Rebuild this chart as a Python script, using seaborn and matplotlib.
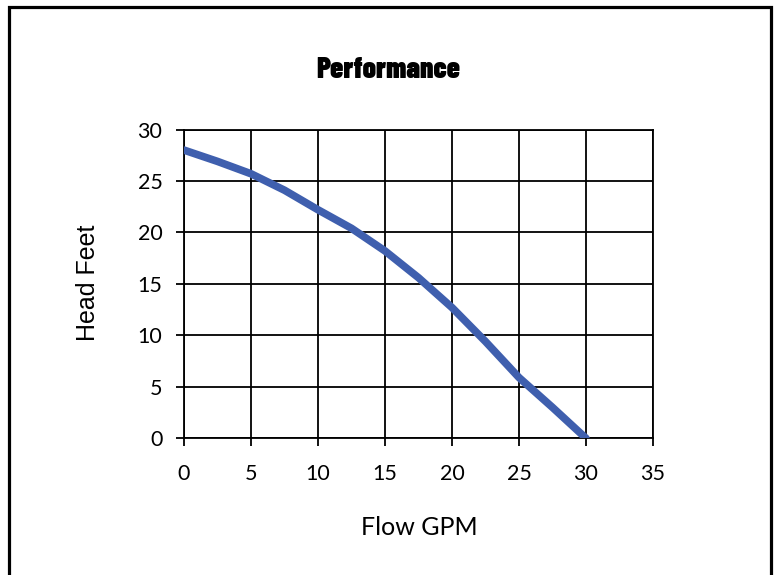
import matplotlib
matplotlib.use("Agg")
import matplotlib.pyplot as plt
import seaborn as sns
import pandas as pd
from matplotlib.patches import Rectangle

# Data
flow_gpm = [0, 2.5, 5, 7.5, 10, 12.5, 15, 17.5, 20, 22.5, 25, 27.5, 30]
head_feet = [28.0, 26.9, 25.7, 24.1, 22.2, 20.4, 18.2, 15.6, 12.7, 9.4, 5.9, 3.0, 0.0]
x_ticks = [0, 5, 10, 15, 20, 25, 30, 35]
y_ticks = [0, 5, 10, 15, 20, 25, 30]
title_text = "Performance"
x_label = "Flow GPM"
y_label = "Head Feet"

df = pd.DataFrame({"Flow GPM": flow_gpm, "Head Feet": head_feet})

sns.set_theme(style="white")
plt.rcParams["font.family"] = ["Lato", "DejaVu Sans"]

W, H = 774, 575
fig = plt.figure(figsize=(W / 100, H / 100), dpi=100)
fig.patch.set_facecolor("white")

left, right = 184 / W, 653 / W
bottom, top = 1 - 438.3 / H, 1 - 129.5 / H
ax = fig.add_axes([left, bottom, right - left, top - bottom])

sns.lineplot(data=df, x="Flow GPM", y="Head Feet", ax=ax, sort=False,
             estimator=None, color="#3F5FAE", linewidth=5.5, zorder=5,
             solid_capstyle="round", solid_joinstyle="round")

ax.set_xlim(0, 35)
ax.set_ylim(0, 30)
ax.set_xticks(x_ticks)
ax.set_yticks(y_ticks)
ax.set_xlabel("")
ax.set_ylabel("")
ax.grid(True, color="black", linewidth=1.3)
ax.set_axisbelow(True)
for s in ax.spines.values():
    s.set_visible(True)
    s.set_color("black")
    s.set_linewidth(1.3)
ax.tick_params(axis="both", which="major", direction="out", length=5.5,
               width=1.3, color="black", labelsize=15.5, labelcolor="black")
ax.tick_params(axis="x", pad=13)
ax.tick_params(axis="y", pad=10)
ax.xaxis.set_ticks_position("bottom")
ax.yaxis.set_ticks_position("left")

# Title
fig.text(388.5 / W, 1 - 78.5 / H, title_text, ha="center", va="baseline",
         fontsize=21, fontweight=900,
         family=["Barlow Condensed", "DejaVu Sans"], color="black")
# Axis labels
fig.text(419.5 / W, 1 - 535 / H, x_label, ha="center", va="baseline",
         fontsize=18, family=["Lato", "DejaVu Sans"], color="black")
fig.text(100 / W, 1 - 282.5 / H, y_label, ha="right", va="center",
         rotation=90, fontsize=18,
         family=["Liberation Sans", "DejaVu Sans"], color="black")

# Outer border
fig.patches.append(Rectangle((9 / W, -0.02), (771 - 9) / W, 1.02 - 7 / H,
                             transform=fig.transFigure, fill=False,
                             edgecolor="black", linewidth=2.3, zorder=10))

fig.savefig("out.png", dpi=100)
